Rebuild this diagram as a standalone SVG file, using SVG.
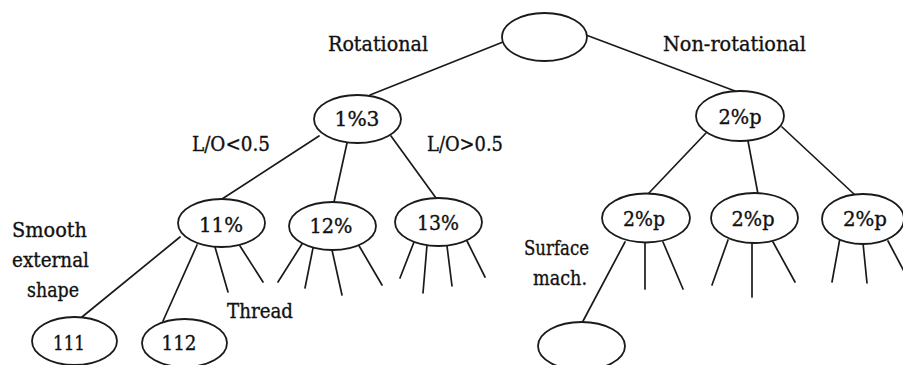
<svg xmlns="http://www.w3.org/2000/svg" width="903" height="365" viewBox="0 0 903 365">
  <style>
    .node ellipse { fill: #ffffff; stroke: #1a1a1a; stroke-width: 1.8; }
    .edges line { stroke: #1a1a1a; stroke-width: 1.7; stroke-linecap: round; }
    text { font-family: "DejaVu Serif", "Liberation Serif", serif; font-size: 20px; fill: #111111; stroke: #111111; stroke-width: 0.35; }
    .c { text-anchor: middle; }
  </style>
  <rect width="903" height="365" fill="#ffffff"/>

  <!-- connectors -->
  <g id="connectors" class="edges">
    <!-- root -->
    <line x1="503" y1="42" x2="370" y2="95"/>
    <line x1="586" y1="35" x2="735" y2="91"/>
    <!-- 1%3 -->
    <line x1="319" y1="136" x2="222" y2="199"/>
    <line x1="347" y1="143" x2="334" y2="202"/>
    <line x1="391" y1="136" x2="436" y2="198"/>
    <!-- 11% -->
    <line x1="180" y1="237" x2="82" y2="317"/>
    <line x1="197" y1="245" x2="163" y2="321"/>
    <line x1="215" y1="247" x2="228" y2="292"/>
    <line x1="240" y1="246" x2="263" y2="282"/>
    <!-- 12% -->
    <line x1="302" y1="244" x2="278" y2="282"/>
    <line x1="313" y1="248" x2="305" y2="288"/>
    <line x1="332" y1="250" x2="342" y2="295"/>
    <line x1="358" y1="244" x2="382" y2="285"/>
    <!-- 13% -->
    <line x1="414" y1="242" x2="400" y2="278"/>
    <line x1="427" y1="245" x2="423" y2="293"/>
    <line x1="447" y1="246" x2="452" y2="286"/>
    <line x1="467" y1="241" x2="485" y2="277"/>
    <!-- 2%p (top) -->
    <line x1="706" y1="133" x2="648" y2="194"/>
    <line x1="748" y1="141" x2="758" y2="194"/>
    <line x1="782" y1="127" x2="855" y2="195"/>
    <!-- 2%p children -->
    <line x1="625" y1="242" x2="582" y2="323"/>
    <line x1="645" y1="243" x2="645" y2="289"/>
    <line x1="663" y1="242" x2="683" y2="289"/>
    <line x1="728" y1="240" x2="712" y2="285"/>
    <line x1="752" y1="243" x2="752" y2="297"/>
    <line x1="773" y1="242" x2="795" y2="282"/>
    <line x1="840" y1="238" x2="832" y2="282"/>
    <line x1="863" y1="243" x2="867" y2="283"/>
    <line x1="888" y1="241" x2="906" y2="275"/>
  </g>

  <!-- nodes -->
  <g id="root" class="node"><ellipse cx="544.5" cy="37" rx="42.5" ry="24"/></g>

  <g id="n1" class="node">
    <ellipse cx="357.5" cy="119" rx="43.5" ry="24"/>
    <text class="c" x="357" y="126" textLength="45" lengthAdjust="spacingAndGlyphs">1%3</text>
  </g>
  <g id="n2" class="node">
    <ellipse cx="740" cy="116" rx="44" ry="25"/>
    <text class="c" x="740" y="124" textLength="43" lengthAdjust="spacingAndGlyphs">2%p</text>
  </g>

  <g id="n11" class="node">
    <ellipse cx="221.5" cy="223" rx="43.5" ry="24"/>
    <text class="c" x="221" y="232" textLength="44" lengthAdjust="spacingAndGlyphs">11%</text>
  </g>
  <g id="n12" class="node">
    <ellipse cx="332.5" cy="226" rx="43.5" ry="24"/>
    <text class="c" x="331" y="233" textLength="43" lengthAdjust="spacingAndGlyphs">12%</text>
  </g>
  <g id="n13" class="node">
    <ellipse cx="438.5" cy="222" rx="43.5" ry="24"/>
    <text class="c" x="438" y="230" textLength="42" lengthAdjust="spacingAndGlyphs">13%</text>
  </g>

  <g id="n21" class="node">
    <ellipse cx="646" cy="218" rx="44" ry="24.5"/>
    <text class="c" x="644" y="226" textLength="42" lengthAdjust="spacingAndGlyphs">2%p</text>
  </g>
  <g id="n22" class="node">
    <ellipse cx="754.5" cy="218" rx="43.5" ry="25"/>
    <text class="c" x="753" y="226" textLength="43" lengthAdjust="spacingAndGlyphs">2%p</text>
  </g>
  <g id="n23" class="node">
    <ellipse cx="863" cy="219" rx="41" ry="25"/>
    <text class="c" x="865" y="226" textLength="44" lengthAdjust="spacingAndGlyphs">2%p</text>
  </g>

  <g id="n111" class="node">
    <ellipse cx="74.5" cy="341" rx="42.5" ry="24"/>
    <text class="c" x="69" y="350" textLength="32" lengthAdjust="spacingAndGlyphs">111</text>
  </g>
  <g id="n112" class="node">
    <ellipse cx="184.5" cy="343" rx="42.5" ry="24"/>
    <text class="c" x="179" y="350" textLength="35" lengthAdjust="spacingAndGlyphs">112</text>
  </g>
  <g id="n211" class="node">
    <ellipse cx="581.5" cy="346" rx="43.5" ry="24"/>
  </g>

  <!-- branch labels -->
  <g id="labels">
    <text class="c" x="378" y="51" textLength="100" lengthAdjust="spacingAndGlyphs">Rotational</text>
    <text class="c" x="734.5" y="51" textLength="143" lengthAdjust="spacingAndGlyphs">Non-rotational</text>
    <text class="c" x="231" y="151" textLength="78" lengthAdjust="spacingAndGlyphs">L/O&lt;0.5</text>
    <text class="c" x="465" y="151" textLength="76" lengthAdjust="spacingAndGlyphs">L/O&gt;0.5</text>
    <text class="c" x="49.5" y="237" textLength="75" lengthAdjust="spacingAndGlyphs">Smooth</text>
    <text class="c" x="50.5" y="267" textLength="77" lengthAdjust="spacingAndGlyphs">external</text>
    <text class="c" x="53" y="297" textLength="52" lengthAdjust="spacingAndGlyphs">shape</text>
    <text class="c" x="260" y="318" textLength="66" lengthAdjust="spacingAndGlyphs">Thread</text>
    <text class="c" x="556.5" y="255" textLength="65" lengthAdjust="spacingAndGlyphs">Surface</text>
    <text class="c" x="560" y="285" textLength="54" lengthAdjust="spacingAndGlyphs">mach.</text>
  </g>
</svg>
